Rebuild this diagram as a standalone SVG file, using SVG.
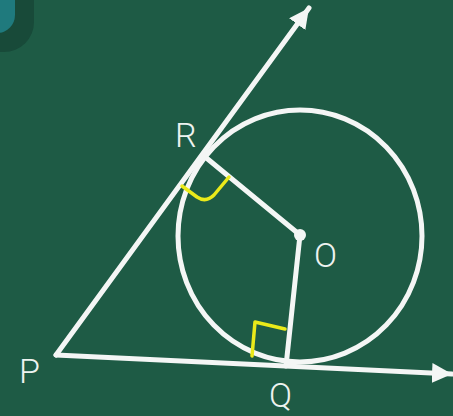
<svg xmlns="http://www.w3.org/2000/svg" width="453" height="416" viewBox="0 0 453 416">
  <style>
    .ln { stroke: #f4f6f5; stroke-width: 5; fill: none; stroke-linecap: round; }
    .ra { stroke: #eaea1a; stroke-width: 3.5; fill: none; stroke-linejoin: round; stroke-linecap: round; }
    .lb { font-family: Roboto, "Liberation Sans", sans-serif; font-size: 34px; font-weight: 300; fill: #eef3f0; }
  </style>
  <defs>
    <marker id="ah" markerUnits="userSpaceOnUse" markerWidth="22" markerHeight="20" refX="20" refY="10" orient="auto">
      <path d="M0,0 L20,10 L0,20 z" fill="#f4f6f5"/>
    </marker>
  </defs>
  <rect width="453" height="416" fill="#1e5b45"/>
  <g id="corner">
    <rect x="-40" y="-40" width="74" height="92" rx="30" fill="#184a39"/>
    <rect x="-40" y="-40" width="55" height="73" rx="18" fill="#1f7a7d"/>
  </g>
  <g id="connectors">
    <line class="ln" x1="56" y1="355" x2="309" y2="8" marker-end="url(#ah)"/>
    <line class="ln" x1="56" y1="355" x2="452" y2="374" marker-end="url(#ah)"/>
    <line class="ln" x1="204" y1="156" x2="300" y2="235"/>
    <line class="ln" x1="300" y1="235" x2="286" y2="366"/>
  </g>
  <g id="circle">
    <ellipse cx="300" cy="236" rx="122" ry="126" class="ln"/>
  </g>
  <g id="O">
    <circle cx="300" cy="235" r="6" fill="#f4f6f5"/>
    <text class="lb" x="314" y="267">O</text>
  </g>
  <g id="R">
    <text class="lb" x="175" y="147">R</text>
  </g>
  <g id="P">
    <text class="lb" x="19" y="383">P</text>
  </g>
  <g id="Q">
    <text class="lb" x="269" y="407">Q</text>
  </g>
  <g id="right-angles">
    <path class="ra" d="M182,186 L197,197 Q206,203 214,195 L229,177"/>
    <path class="ra" d="M252,356 L255,322 L285,329"/>
  </g>
</svg>
